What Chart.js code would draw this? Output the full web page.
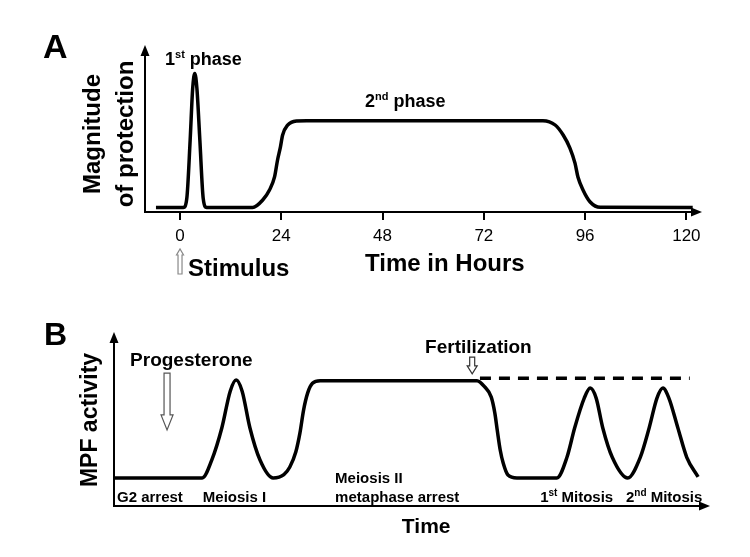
<!DOCTYPE html>
<html><head><meta charset="utf-8">
<script src="https://cdn.jsdelivr.net/npm/chart.js@4.4.1/dist/chart.umd.min.js"></script>
<style>
html,body{margin:0;padding:0;background:#fff;}
#wrap{position:relative;width:750px;height:557px;overflow:hidden;background:#fff;}
canvas{position:absolute;left:0;}
#cA{top:0;} #cB{top:290px;}
</style></head><body>
<div id="wrap"><canvas id="cA" width="750" height="290"></canvas><canvas id="cB" width="750" height="267"></canvas></div>
<script>
// ---------- Panel A data (hours vs magnitude of protection) ----------
const hoursA = [-5.7, 0.8, 1.6, 2.4, 3.0, 3.5, 4.0, 4.7, 5.5, 6.3, 17.2, 19.6, 21.2, 22.4, 23.1, 23.8, 24.3, 25.5, 27.6, 30,
                86.0, 88.9, 90.8, 92.4, 93.6, 94.3, 95.5, 97.2, 99.6, 121.5];
const protectionA = [2.7, 2.7, 8, 43, 74, 83, 74, 43, 8, 2.7, 2.7, 7.2, 13.2, 21, 31, 39, 46, 52, 54.5, 54.7,
                     54.7, 52.1, 46.1, 38.3, 29.3, 21, 13.2, 6, 2.8, 2.7];
const tickHoursA = [0, 24, 48, 72, 96, 120];

// ---------- Panel B data (time vs MPF activity) ----------
const timeB = [0, 14.8, 16.4, 18.1, 19.5, 20.5, 21.5, 22.8, 24.5, 26.7, 28.5, 29.5, 30.5, 31.2, 31.8, 32.5, 33.3, 34.6,
               60.9, 62.2, 63.3, 63.9, 64.3, 64.8, 65.3, 66.1, 67.6, 74.3, 76.0, 77.3, 78.9, 79.9, 80.9, 82.0, 83.6, 86.2,
               88.3, 89.8, 91.1, 92.1, 93.1, 94.6, 96.1, 98.0];
const mpfB = [16.1, 16.1, 26.4, 45, 66, 72.4, 66, 45, 26.4, 16.1, 18, 22.4, 31, 42, 55, 65, 70.5, 72,
              72, 68.4, 62.6, 53.4, 43.7, 32.2, 24.7, 17.8, 16.1, 16.1, 28, 45, 62, 67.8, 62, 45, 28, 16.1,
              28, 45, 62, 67.8, 62, 45, 28, 16.7];
const dashTimeB = [61.4, 96.6];
const dashMpfB = [73.4, 73.4];

const FONT = '"Liberation Sans", Arial, Helvetica, sans-serif';

function pts(xs, ys){ return xs.map((v,i)=>({x:v, y:ys[i]})); }

function drawArrowAxes(ctx, a){
  ctx.save();
  ctx.strokeStyle='#000'; ctx.fillStyle='#000'; ctx.lineWidth=2;
  ctx.beginPath(); ctx.moveTo(a.left, a.bottom+1); ctx.lineTo(a.left, a.top+8); ctx.stroke();
  ctx.beginPath(); ctx.moveTo(a.left, a.top); ctx.lineTo(a.left-4.5, a.top+11); ctx.lineTo(a.left+4.5, a.top+11); ctx.closePath(); ctx.fill();
  ctx.beginPath(); ctx.moveTo(a.left-1, a.bottom); ctx.lineTo(a.right-8, a.bottom); ctx.stroke();
  ctx.beginPath(); ctx.moveTo(a.right, a.bottom); ctx.lineTo(a.right-11, a.bottom-4.5); ctx.lineTo(a.right-11, a.bottom+4.5); ctx.closePath(); ctx.fill();
  ctx.restore();
}
function hollowArrow(ctx, x, yTail, yTip, shaftW, headW, headL, color){
  const dir = Math.sign(yTip - yTail);
  const yHead = yTip - dir*headL;
  ctx.save();
  ctx.beginPath();
  ctx.moveTo(x - shaftW/2, yTail);
  ctx.lineTo(x - shaftW/2, yHead);
  ctx.lineTo(x - headW/2, yHead);
  ctx.lineTo(x, yTip);
  ctx.lineTo(x + headW/2, yHead);
  ctx.lineTo(x + shaftW/2, yHead);
  ctx.lineTo(x + shaftW/2, yTail);
  ctx.closePath();
  ctx.fillStyle='#fff'; ctx.fill();
  ctx.strokeStyle=color; ctx.lineWidth=1.2; ctx.stroke();
  ctx.restore();
}
function txt(ctx, s, x, y, size, bold, align){
  ctx.font = (bold?'bold ':'') + size + 'px ' + FONT;
  ctx.textAlign = align || 'left';
  ctx.textBaseline = 'alphabetic';
  ctx.fillStyle = '#000';
  ctx.fillText(s, x, y);
}
function rich(ctx, parts, x, y){
  let cx = x;
  for (const [s, size, dy] of parts){
    ctx.font = 'bold ' + size + 'px ' + FONT;
    ctx.textAlign='left'; ctx.textBaseline='alphabetic'; ctx.fillStyle='#000';
    ctx.fillText(s, cx, y + dy);
    cx += ctx.measureText(s).width;
  }
}
function rotated(ctx, s, x, y, size){
  ctx.save();
  ctx.translate(x, y); ctx.rotate(-Math.PI/2);
  ctx.font = 'bold ' + size + 'px ' + FONT;
  ctx.textAlign='center'; ctx.textBaseline='alphabetic'; ctx.fillStyle='#000';
  ctx.fillText(s, 0, 0);
  ctx.restore();
}

const annotA = {
  id:'annotA',
  afterDraw(chart){
    const {ctx, chartArea:a, scales:{x, y}} = chart;
    drawArrowAxes(ctx, a);
    ctx.save();
    txt(ctx, 'A', 43, 58, 34, true);
    rich(ctx, [['1',18,0],['st',11,-7],[' phase',18,0]], x.getPixelForValue(-3.55), y.getPixelForValue(88));
    rich(ctx, [['2',18,0],['nd',11,-7],[' phase',18,0]], x.getPixelForValue(43.85), y.getPixelForValue(62.9));
    rotated(ctx, 'Magnitude', 100, 134, 24);
    rotated(ctx, 'of protection', 133, 134, 24);
    const x0 = x.getPixelForValue(0);
    hollowArrow(ctx, x0, a.bottom+62, a.bottom+37, 4, 7, 6, '#888');
    txt(ctx, 'Stimulus', x.getPixelForValue(1.9), a.bottom+64, 24, true);
    txt(ctx, 'Time in Hours', x.getPixelForValue(43.85), a.bottom+59, 24, true);
    ctx.restore();
  }
};

const annotB = {
  id:'annotB',
  afterDraw(chart){
    const {ctx, chartArea:a, scales:{x, y}} = chart;
    drawArrowAxes(ctx, a);
    ctx.save();
    txt(ctx, 'B', 44, 55, 32, true);
    txt(ctx, 'Progesterone', x.getPixelForValue(2.7), y.getPixelForValue(80.5), 19, true);
    hollowArrow(ctx, x.getPixelForValue(8.9), y.getPixelForValue(76.4), y.getPixelForValue(43.7), 6, 12, 15, '#555');
    txt(ctx, 'Fertilization', x.getPixelForValue(52.2), y.getPixelForValue(87.9), 19, true);
    hollowArrow(ctx, x.getPixelForValue(60.1), y.getPixelForValue(85.6), y.getPixelForValue(75.9), 5, 10, 8, '#333');
    const yb = y.getPixelForValue(2.3);
    txt(ctx, 'G2 arrest', x.getPixelForValue(0.5), yb, 15, true);
    txt(ctx, 'Meiosis I', x.getPixelForValue(14.9), yb, 15, true);
    txt(ctx, 'Meiosis II', x.getPixelForValue(37.1), y.getPixelForValue(13.2), 15, true);
    txt(ctx, 'metaphase arrest', x.getPixelForValue(37.1), yb, 15, true);
    rich(ctx, [['1',15,0],['st',10,-6],[' Mitosis',15,0]], x.getPixelForValue(71.5), yb);
    rich(ctx, [['2',15,0],['nd',10,-6],[' Mitosis',15,0]], x.getPixelForValue(85.9), yb);
    txt(ctx, 'Time', x.getPixelForValue(48.3), a.bottom+27, 21, true);
    rotated(ctx, 'MPF activity', a.left-17, 130, 23);
    ctx.restore();
  }
};

const lineStyle = {showLine:true, pointRadius:0, borderColor:'#000', borderWidth:3.5, fill:false, cubicInterpolationMode:'monotone', clip:false};

new Chart(document.getElementById('cA'), {
  type:'scatter',
  data:{datasets:[Object.assign({label:'Magnitude of protection', data:pts(hoursA, protectionA)}, lineStyle)]},
  options:{
    responsive:false, animation:false, devicePixelRatio:1,
    layout:{padding:{left:145, right:48, top:45, bottom:0}},
    plugins:{legend:{display:false}, tooltip:{enabled:false}},
    scales:{
      x:{type:'linear', min:-8.3, max:123.7,
         afterBuildTicks:s=>{ s.ticks = tickHoursA.map(v=>({value:v})); },
         afterFit:s=>{ s.height = 78; },
         grid:{display:true, drawOnChartArea:false, drawTicks:true, tickLength:8, color:'#000', lineWidth:2},
         border:{display:false},
         ticks:{font:{size:17, family:FONT}, color:'#000', padding:6, maxRotation:0, autoSkip:false, callback:v=>String(v)}},
      y:{display:false, min:0, max:100}
    }
  },
  plugins:[annotA]
});

new Chart(document.getElementById('cB'), {
  type:'scatter',
  data:{datasets:[
    Object.assign({label:'MPF activity', data:pts(timeB, mpfB)}, lineStyle),
    Object.assign({label:'MPF (no fertilization)', data:pts(dashTimeB, dashMpfB)}, lineStyle, {borderDash:[11,8], cubicInterpolationMode:'default', tension:0})
  ]},
  options:{
    responsive:false, animation:false, devicePixelRatio:1,
    layout:{padding:{left:114, right:40, top:42, bottom:51}},
    plugins:{legend:{display:false}, tooltip:{enabled:false}},
    scales:{
      x:{type:'linear', display:false, min:0, max:100},
      y:{display:false, min:0, max:100}
    }
  },
  plugins:[annotB]
});
</script></body></html>
